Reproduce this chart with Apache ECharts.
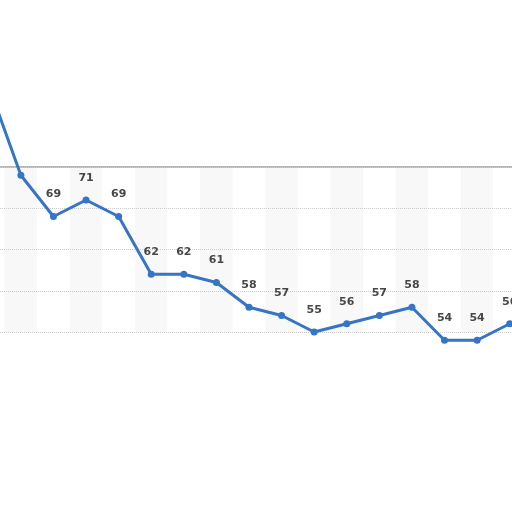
<!DOCTYPE html>
<html>
<head>
<meta charset="utf-8">
<script src="https://cdn.jsdelivr.net/npm/echarts@6/dist/echarts.min.js"></script>
<style>
html, body { margin: 0; padding: 0; background: #fff; overflow: hidden; }
/* the picture is a crop: the plot runs past both edges */
#main { width: 554px; height: 512px; margin-left: -28px; }
</style>
</head>
<body>
<div id="main"></div>
<script>
// categories (their labels are not visible in the picture)
var categories = ['1', '2', '3', '4', '5', '6', '7', '8', '9', '10', '11', '12', '13', '14', '15', '16', '17'];
var values = [85, 74, 69, 71, 69, 62, 62, 61, 58, 57, 55, 56, 57, 58, 54, 54, 56];
// the first two points have no label in the picture
var hiddenLabels = [0, 1];

var myChart = echarts.init(document.getElementById('main'));
var option = {
    animation: false,
    grid: {
        left: 0,
        right: 0,
        top: 167,
        bottom: 180
    },
    xAxis: {
        type: 'category',
        data: categories,
        boundaryGap: true,
        position: 'top',
        z: 0,
        axisLine: { show: true, lineStyle: { color: '#b5b5b5', width: 2 } },
        axisTick: { show: false },
        axisLabel: { show: false },
        splitArea: {
            show: true,
            areaStyle: { color: ['#ffffff', '#f8f8f8'] }
        }
    },
    yAxis: {
        type: 'value',
        min: 55,
        max: 75,
        interval: 5,
        z: 2,
        axisLine: { show: false },
        axisTick: { show: false },
        axisLabel: { show: false },
        splitLine: { lineStyle: { color: '#cccccc', type: 'dotted' } }
    },
    series: [
        {
            type: 'line',
            clip: false,
            z: 3,
            data: values.map(function (v, i) {
                return {
                    value: v,
                    label: { show: hiddenLabels.indexOf(i) < 0 }
                };
            }),
            symbol: 'circle',
            symbolSize: 7,
            lineStyle: { color: '#3574c6', width: 3 },
            itemStyle: { color: '#3574c6' },
            label: {
                show: true,
                position: 'top',
                distance: 13,
                color: '#474747',
                fontSize: 11,
                fontWeight: 'bold',
                fontFamily: 'DejaVu Sans'
            }
        }
    ]
};
myChart.setOption(option);
</script>
</body>
</html>
